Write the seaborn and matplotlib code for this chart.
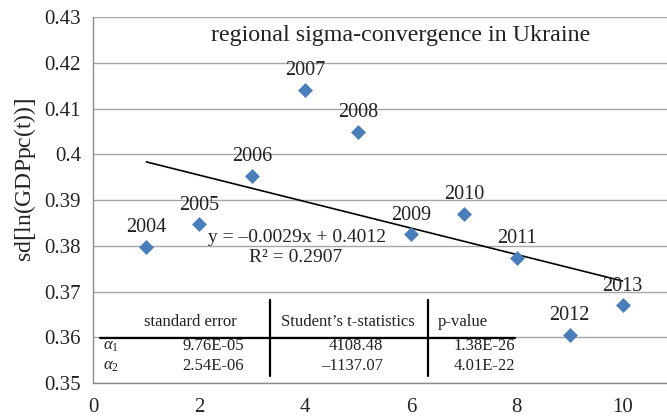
import matplotlib
matplotlib.use("Agg")
import matplotlib.pyplot as plt
import seaborn as sns
import numpy as np
import pandas as pd
from matplotlib.ticker import FuncFormatter

# ---- data ----
years = ["2004", "2005", "2006", "2007", "2008", "2009", "2010", "2011", "2012", "2013"]
x_index = [1, 2, 3, 4, 5, 6, 7, 8, 9, 10]
sd_values = [0.3798, 0.3847, 0.3953, 0.4141, 0.4049, 0.3825, 0.3869, 0.3774, 0.3606, 0.3670]

title = "regional sigma-convergence in Ukraine"
equation = "y = \u20130.0029x + 0.4012"
r_squared = "R\u00b2 = 0.2907"

table_header = ["standard error", "Student\u2019s t-statistics", "p-value"]
table_rows = [r"$\alpha_1$", r"$\alpha_2$"]
std_error = ["9.76E-05", "2.54E-06"]
t_stats = ["4108.48", "\u20131137.07"]
p_values = ["1.38E-26", "4.01E-22"]

x_ticks = [0, 2, 4, 6, 8, 10]
y_ticks = [0.35, 0.36, 0.37, 0.38, 0.39, 0.40, 0.41, 0.42, 0.43]

df = pd.DataFrame({"x": x_index, "sd": sd_values, "year": years})

sns.set_style("white")
plt.rcParams["font.family"] = ["Liberation Serif", "DejaVu Serif"]
plt.rcParams["mathtext.fontset"] = "custom"
plt.rcParams["mathtext.rm"] = "Liberation Serif"
plt.rcParams["mathtext.it"] = "Liberation Serif:italic"

fig = plt.figure(figsize=(6.67, 4.16), dpi=100)
ax = fig.add_axes([0.14, 0.0793, 0.86, 0.8797])

grid_color = "#A6A6A6"
blue = "#4A7EBB"
txt = "#222222"

ax.set_xlim(0, 10.84)
ax.set_ylim(0.35, 0.43)
ax.set_yticks(y_ticks)
ax.set_xticks(x_ticks)
ax.yaxis.set_major_formatter(FuncFormatter(lambda v, p: f"{v:g}"))
ax.grid(axis="y", color=grid_color, linewidth=1.0)
ax.grid(axis="x", visible=False)
ax.set_axisbelow(True)

for s in ["top", "right"]:
    ax.spines[s].set_visible(False)
for s in ["left", "bottom"]:
    ax.spines[s].set_color("#8C8C8C")
    ax.spines[s].set_linewidth(1.0)
ax.tick_params(axis="both", which="both", direction="out", length=5, width=1,
               color="#8C8C8C", labelsize=15, labelcolor=txt, pad=4)
ax.tick_params(axis="x", pad=6)

sns.regplot(data=df, x="x", y="sd", scatter=False, ci=None, truncate=True,
            color="black", line_kws={"linewidth": 1.2}, ax=ax)
sns.scatterplot(data=df, x="x", y="sd", marker="D", s=58, color=blue,
                linewidth=0, ax=ax, zorder=5)

for xi, yi, lab in zip(x_index, sd_values, years):
    ax.annotate(lab, (xi, yi), xytext=(0, 7), textcoords="offset points",
                ha="center", va="bottom", fontsize=14.5, color=txt)

ax.set_xlabel("")
ax.set_ylabel(r"sd$\left[\mathrm{ln(GDPpc(t))}\right]$", fontsize=17, color=txt)
ax.yaxis.set_label_coords(-0.097, 0.555)

ax.text(5.8, 0.4260, title, ha="center", va="center", fontsize=17.3, color=txt)
ax.text(3.85, 0.3819, equation, ha="center", va="center", fontsize=14, color=txt)
ax.text(3.82, 0.3775, r_squared, ha="center", va="center", fontsize=14, color=txt)

# ---- table ----
tfs = 12
ax.plot([0.13, 7.97], [0.3598, 0.3598], color="black", linewidth=1.6, zorder=3)
ax.plot([3.34, 3.34], [0.3515, 0.3681], color="black", linewidth=1.6, zorder=3)
ax.plot([6.33, 6.33], [0.3515, 0.3681], color="black", linewidth=1.6, zorder=3)
ax.text(1.83, 0.3633, table_header[0], ha="center", va="center", fontsize=tfs, color=txt)
ax.text(4.80, 0.3633, table_header[1], ha="center", va="center", fontsize=tfs, color=txt)
ax.text(6.50, 0.3633, table_header[2], ha="left", va="center", fontsize=tfs, color=txt)
row_y = [0.3581, 0.3537]
for i in range(2):
    ax.text(0.18, row_y[i], table_rows[i], ha="left", va="center", fontsize=tfs, color=txt)
    ax.text(2.85, row_y[i], std_error[i], ha="right", va="center", fontsize=tfs, color=txt)
    ax.text(5.48, row_y[i], t_stats[i], ha="right", va="center", fontsize=tfs, color=txt)
    ax.text(7.97, row_y[i], p_values[i], ha="right", va="center", fontsize=tfs, color=txt)

fig.savefig("out.png", dpi=100)
